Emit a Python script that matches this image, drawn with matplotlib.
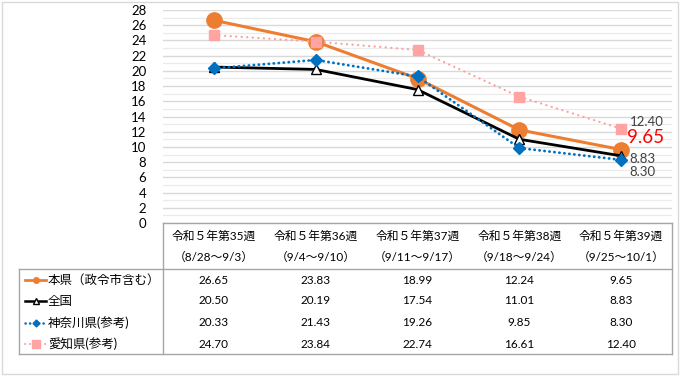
import matplotlib
matplotlib.use('Agg')
import matplotlib.pyplot as plt
from matplotlib.lines import Line2D
from matplotlib.patches import Rectangle
import numpy as np

plt.rcParams['font.family'] = ['Lato', 'Noto Sans CJK JP', 'DejaVu Sans']

# データ
weeks   = ['令和５年第35週', '令和５年第36週', '令和５年第37週', '令和５年第38週', '令和５年第39週']
periods = ['（8/28～9/3）', '（9/4～9/10）', '（9/11～9/17）', '（9/18～9/24）', '（9/25～10/1）']

series_names = ['本県（政令市含む）', '全国', '神奈川県(参考)', '愛知県(参考)']
honken   = [26.65, 23.83, 18.99, 12.24, 9.65]
zenkoku  = [20.50, 20.19, 17.54, 11.01, 8.83]
kanagawa = [20.33, 21.43, 19.26, 9.85, 8.30]
aichi    = [24.70, 23.84, 22.74, 16.61, 12.40]
values = [honken, zenkoku, kanagawa, aichi]

yticks = list(range(0, 29, 2))

W, H = 690, 380
def fx(x):
    return x / W
def fy(y):
    return 1 - y / H

styles = [
    dict(color='#ED7D31', lw=2.2, ls='-', marker='o', ms=11, mfc='#ED7D31', mec='#ED7D31'),
    dict(color='#000000', lw=2.0, ls='-', marker='^', ms=7, mfc='white', mec='#000000', mew=1.0),
    dict(color='#0070C0', lw=2.0, ls=(0, (0.1, 1.7)), marker='D', ms=6.5, mfc='#0070C0', mec='#0070C0'),
    dict(color='#FF9F9F', lw=1.6, ls=(0, (0.1, 2.4)), marker='s', ms=7.5, mfc='#FFA3A3', mec='#FFA3A3'),
]
legend_ms = [4.0, 4.5, 3.5, 5.5]

fig = plt.figure(figsize=(6.9, 3.8), dpi=100)
fig.patch.set_facecolor('white')

# 外枠
fig.add_artist(Rectangle((fx(2), fy(374)), fx(676), 372 / H, fill=False,
                         edgecolor='#D9D9D9', lw=1.0, transform=fig.transFigure))

left, right, top, bottom = 163, 672, 10, 223
ax = fig.add_axes([fx(left), fy(bottom), fx(right - left), (bottom - top) / H])
x = np.arange(len(weeks))
for vals, st, z in zip(values, styles, [3, 4, 5, 6]):
    ax.plot(x, vals, zorder=z, dash_capstyle='round', **st)

ax.set_xlim(-0.5, len(weeks) - 0.5)
ax.set_ylim(0, 28)
ax.set_yticks(yticks)
ax.set_yticks(range(1, 28, 2), minor=True)
ax.set_xticks([])
ax.tick_params(axis='y', which='both', length=0, pad=12, labelsize=9.5, labelcolor='#000000')
ax.grid(axis='y', which='major', color='#D9D9D9', lw=1.0)
ax.grid(axis='y', which='minor', color='#EBEBEB', lw=0.9)
ax.set_axisbelow(True)
for s in ax.spines.values():
    s.set_visible(False)

# データラベル
last = len(weeks) - 1
ax.annotate(f'{aichi[last]:.2f}', (last, aichi[last]), xytext=(9, 7), textcoords='offset pixels',
            ha='left', va='center', fontsize=9.5, color='#404040')
ax.annotate(f'{honken[last]:.2f}', (last, honken[last]), xytext=(6, 12), textcoords='offset pixels',
            ha='left', va='center', fontsize=13.5, color='#FF0000')
ax.annotate(f'{zenkoku[last]:.2f}', (last, zenkoku[last]), xytext=(8, -3), textcoords='offset pixels',
            ha='left', va='center', fontsize=9.5, color='#404040')
ax.annotate(f'{kanagawa[last]:.2f}', (last, kanagawa[last]), xytext=(8, -12), textcoords='offset pixels',
            ha='left', va='center', fontsize=9.5, color='#404040')

# データテーブル
line_c = '#A6A6A6'
tleft = 19
hdr_top, hdr_bot, tab_bot = 223, 269, 354
def hline(x0, x1, y):
    fig.add_artist(Line2D([fx(x0), fx(x1)], [fy(y), fy(y)], color=line_c, lw=1.0))
def vline(xx, y0, y1):
    fig.add_artist(Line2D([fx(xx), fx(xx)], [fy(y0), fy(y1)], color=line_c, lw=1.0))

hline(left, right, hdr_top)
hline(tleft, right, hdr_bot)
hline(tleft, right, tab_bot)
vline(tleft, hdr_bot, tab_bot)
vline(left, hdr_top, tab_bot)
vline(right, hdr_top, tab_bot)

colw = (right - left) / len(weeks)
for i, (wk, pr) in enumerate(zip(weeks, periods)):
    cx = left + colw * (i + 0.5)
    fig.text(fx(cx), fy(236), wk, ha='center', va='center', fontsize=8.5)
    fig.text(fx(cx), fy(257), pr, ha='center', va='center', fontsize=8.5)

row_y = [280, 301, 323, 344]
for name, vals, st, ms, ry in zip(series_names, values, styles, legend_ms, row_y):
    fig.add_artist(Line2D([fx(25), fx(46)], [fy(ry), fy(ry)], color=st['color'], lw=st['lw'] * 0.9,
                          ls=st['ls'], dash_capstyle='round'))
    fig.add_artist(Line2D([fx(35.5)], [fy(ry)], marker=st['marker'], ms=ms,
                          mfc=st['mfc'], mec=st['mec'], ls='none'))
    fig.text(fx(48), fy(ry), name, ha='left', va='center', fontsize=9)
    for i, v in enumerate(vals):
        cx = left + colw * (i + 0.5)
        fig.text(fx(cx), fy(ry), f'{v:.2f}', ha='center', va='center', fontsize=8.5)

fig.savefig('out.png', dpi=100)
plt.close()
